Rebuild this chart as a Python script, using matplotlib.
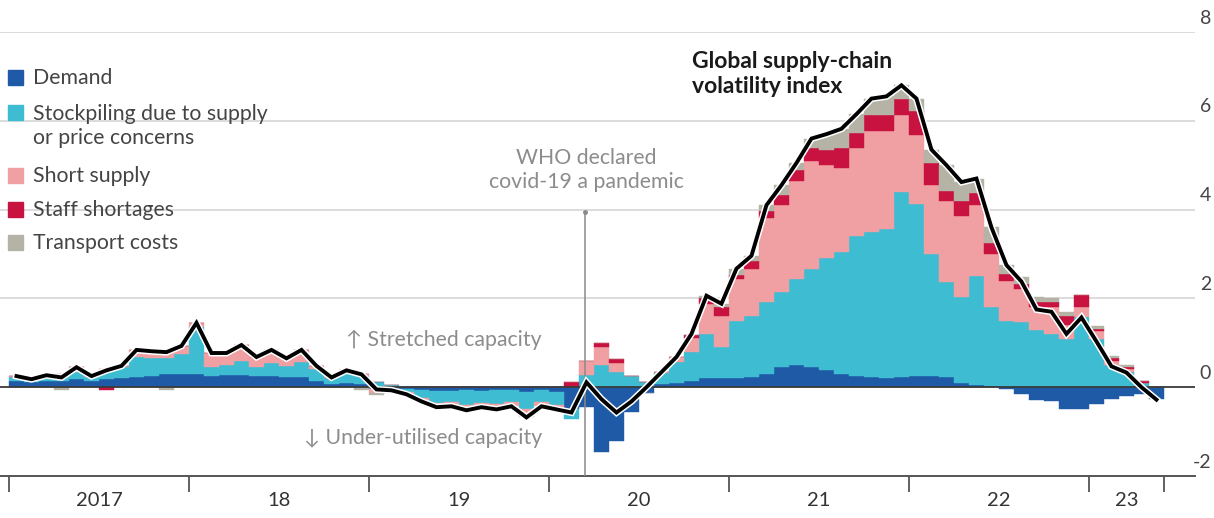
import matplotlib
matplotlib.use('Agg')
import numpy as np
import matplotlib.pyplot as plt
import matplotlib.patheffects as pe
from matplotlib.patches import Rectangle

plt.rcParams['font.family'] = ['Lato', 'DejaVu Sans']

W, H = 1214, 518

# monthly, Jan 2017 - May 2023
year_labels = ['2017', '18', '19', '20', '21', '22', '23']

index = [0.25, 0.18, 0.27, 0.22, 0.45, 0.25, 0.38, 0.48, 0.84, 0.81, 0.79, 0.93,
         1.45, 0.77, 0.77, 0.95, 0.68, 0.84, 0.65, 0.84, 0.48, 0.22, 0.38, 0.29,
         -0.05, -0.07, -0.16, -0.32, -0.45, -0.43, -0.52, -0.45, -0.50, -0.43, -0.68, -0.43,
         -0.50, -0.57, 0.11, -0.27, -0.57, -0.32, 0.00, 0.34, 0.68, 1.20, 2.06, 1.88,
         2.67, 2.96, 4.10, 4.55, 5.05, 5.60, 5.70, 5.82, 6.15, 6.50, 6.55, 6.80,
         6.50, 5.35, 5.00, 4.62, 4.70, 3.60, 2.75, 2.38, 1.75, 1.70, 1.20, 1.57,
         1.03, 0.47, 0.33, 0.00, -0.28]

demand = [0.15, 0.12, 0.15, 0.15, 0.18, 0.15, 0.18, 0.20, 0.22, 0.25, 0.30, 0.30,
          0.30, 0.26, 0.28, 0.28, 0.25, 0.25, 0.22, 0.22, 0.15, 0.08, 0.10, 0.08,
          -0.03, -0.03, -0.05, -0.06, -0.08, -0.08, -0.07, -0.08, -0.07, -0.06, -0.10, -0.06,
          -0.10, -0.50, -0.45, -1.45, -1.22, -0.55, -0.12, 0.07, 0.10, 0.15, 0.20, 0.20,
          0.20, 0.22, 0.30, 0.45, 0.50, 0.45, 0.38, 0.30, 0.25, 0.22, 0.20, 0.22,
          0.25, 0.25, 0.22, 0.10, 0.05, 0.03, -0.05, -0.15, -0.28, -0.30, -0.50, -0.50,
          -0.38, -0.27, -0.20, -0.15, -0.27]

stockpiling = [0.07, 0.04, 0.08, 0.08, 0.17, 0.08, 0.20, 0.25, 0.45, 0.40, 0.35, 0.45,
               1.05, 0.20, 0.22, 0.30, 0.20, 0.30, 0.25, 0.35, 0.25, 0.12, 0.22, 0.17,
               0.12, 0.05, -0.06, -0.18, -0.27, -0.25, -0.33, -0.27, -0.30, -0.27, -0.38, -0.27,
               -0.30, -0.22, 0.28, 0.50, 0.35, 0.25, 0.12, 0.25, 0.47, 0.65, 1.00, 0.70,
               1.30, 1.38, 1.62, 1.70, 1.94, 2.22, 2.52, 2.75, 3.15, 3.28, 3.37, 4.18,
               3.87, 2.75, 2.15, 1.93, 2.45, 1.77, 1.50, 1.46, 1.28, 1.20, 1.08, 1.58,
               1.08, 0.50, 0.35, 0.10, 0.00]

short_supply = [0.03, 0.02, 0.04, 0.06, 0.10, 0.02, 0.02, 0.03, 0.17, 0.16, 0.14, 0.18,
                0.10, 0.31, 0.27, 0.37, 0.23, 0.29, 0.18, 0.27, 0.08, 0.02, 0.06, 0.04,
                -0.10, -0.09, -0.05, -0.08, -0.10, -0.10, -0.12, -0.10, -0.13, -0.10, -0.20, -0.10,
                -0.10, 0.00, 0.30, 0.40, 0.20, 0.00, 0.00, 0.02, 0.11, 0.30, 0.68, 0.70,
                0.94, 1.07, 1.88, 1.95, 2.20, 2.42, 2.10, 1.88, 1.98, 2.27, 2.20, 1.73,
                1.56, 1.55, 1.82, 1.82, 1.60, 1.20, 0.90, 0.76, 0.53, 0.60, 0.32, 0.22,
                0.19, 0.08, 0.05, 0.00, 0.00]

staff = [0, 0, 0, 0, 0, 0, -0.07, 0, 0, 0, 0, 0,
         0, 0, 0, 0, 0, 0, 0, 0, 0, 0, 0, 0,
         0, 0, 0, 0, 0, 0, 0, 0, 0, 0, 0, 0,
         0, 0.12, 0, 0.10, 0.08, 0, 0, 0, 0, 0.08, 0.12, 0.20,
         0.08, 0.18, 0.16, 0.22, 0.25, 0.29, 0.34, 0.45, 0.34, 0.36, 0.36, 0.37,
         0.54, 0.50, 0.22, 0.34, 0.27, 0.24, 0.15, 0.11, 0.12, 0.12, 0.20, 0.28,
         0.05, 0.08, 0.05, 0.04, 0.00]

transport = [0, 0, 0, -0.07, 0, 0, 0, 0, 0, 0, -0.06, 0,
             0, 0, 0, 0, 0, 0, 0, 0, 0, 0, 0, -0.06,
             -0.04, 0, 0, 0, 0, 0, 0, 0, 0, 0, 0, 0,
             0, 0, 0, 0, 0, 0, -0.02, 0, 0, 0, 0.06, 0.08,
             0.15, 0.11, 0.14, 0.23, 0.16, 0.22, 0.36, 0.44, 0.43, 0.37, 0.42, 0.30,
             0.28, 0.30, 0.59, 0.43, 0.33, 0.36, 0.20, 0.15, 0.10, 0.08, 0.10, 0.00,
             0.05, 0.05, 0.05, 0.00, 0.00]

labels = ['Demand', 'Stockpiling due to supply\nor price concerns', 'Short supply',
          'Staff shortages', 'Transport costs']
colors = ['#1f5aa6', '#3ebcd2', '#f0a0a2', '#c8123f', '#b5b3a6']


def px(x, y):
    # figure pixel -> figure fraction
    return x / W, 1 - y / H


fig = plt.figure(figsize=(W / 100, H / 100), dpi=100)
ax = fig.add_axes([0, 42 / H, 1195 / W, 444 / H])
ax.set_xlim(-0.6, 79.07)
ax.set_ylim(-2, 8)
for s in ax.spines.values():
    s.set_visible(False)

for g in [2, 4, 6, 8]:
    ax.axhline(g, color='#d9d9d9', lw=1.3, zorder=0)

n = len(index)
x = np.arange(n)
pos_bottom = np.zeros(n)
neg_bottom = np.zeros(n)
for vals, c in zip([demand, stockpiling, short_supply, staff, transport], colors):
    v = np.array(vals, dtype=float)
    bottom = np.where(v >= 0, pos_bottom, neg_bottom)
    ax.bar(x, v, width=1.0, bottom=bottom, align='edge', color=c,
           edgecolor=c, linewidth=0.3, zorder=2)
    pos_bottom = pos_bottom + np.clip(v, 0, None)
    neg_bottom = neg_bottom + np.clip(v, None, 0)

ax.axhline(0, color='#3a3a3a', lw=1.3, zorder=3)
ax.axhline(-2, color='#555555', lw=1.4, zorder=3, clip_on=False)

ax.plot(x + 0.5, index, color='black', lw=2.8, zorder=5, solid_joinstyle='miter',
        path_effects=[pe.Stroke(linewidth=5, foreground='white'), pe.Normal()])

# pandemic marker (mid-March 2020)
ax.plot([38.4, 38.4], [-2, 3.95], color='#8a8a8a', lw=1.1, zorder=4)
ax.plot([38.4], [3.95], 'o', color='#8a8a8a', ms=2.5, zorder=4)

# x axis: ticks at year starts, labels centred in each year
tick_pos = [0, 12, 24, 36, 48, 60, 72, 77]
ax.set_xticks(tick_pos)
ax.set_xticklabels([])
ax.tick_params(axis='x', length=11.5, width=1.3, color='#555555', direction='out')
ax.set_yticks([])
for i, lab in enumerate(year_labels):
    mid = (tick_pos[i] + tick_pos[i + 1]) / 2
    ax.text(mid, -2.55, lab, ha='center', va='center', fontsize=14.5, color='#333333')

# y labels on the right, sitting just above their gridline
for g in [-2, 0, 2, 4, 6, 8]:
    ax.text(1211 / 1195, g + 0.12, str(g), transform=ax.get_yaxis_transform(),
            ha='right', va='bottom', fontsize=14, color='#444444')

# legend
legend_y = [78, 113, 176, 210, 243]
for lab, c, y in zip(labels, colors, legend_y):
    fx, fy = px(8, y + 7)
    fig.patches.append(Rectangle((fx, fy), 15 / W, 15 / H, transform=fig.transFigure,
                                 color=c, zorder=5))
    ty = y + 12.5 if '\n' in lab else y
    fig.text(*px(33, ty), lab, ha='left', va='center',
             fontsize=15.3, color='#444444', linespacing=1.25)

# annotations
fig.text(*px(586, 170), 'WHO declared\ncovid-19 a pandemic', ha='center', va='center',
         fontsize=15.3, color='#8c8c8c', linespacing=1.3)
fig.text(*px(444, 340), '\u2191 Stretched capacity', ha='center', va='center',
         fontsize=15.3, color='#8c8c8c')
fig.text(*px(423, 438), '\u2193 Under-utilised capacity', ha='center', va='center',
         fontsize=15.3, color='#8c8c8c')
fig.text(*px(692, 74), 'Global supply-chain\nvolatility index', ha='left', va='center',
         fontsize=16.5, fontweight='bold', color='#1a1a1a', linespacing=1.2)

fig.savefig('out.png', dpi=100)
